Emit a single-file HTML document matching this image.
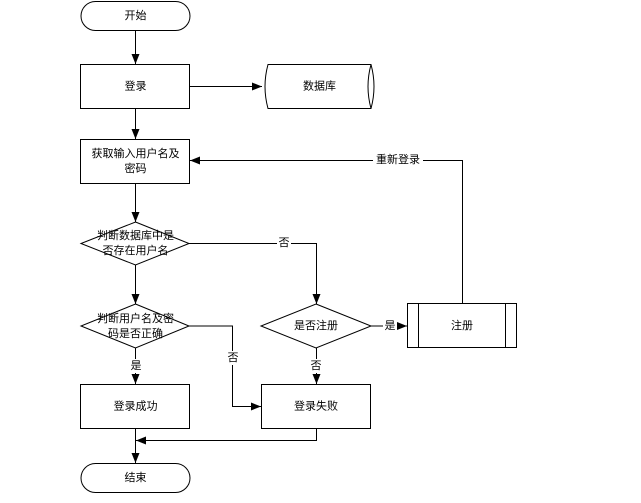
<!DOCTYPE html>
<html><head><meta charset="utf-8"><style>body{margin:0;background:#fff}svg text{font-family:"Liberation Sans","Noto Sans CJK SC",sans-serif;font-size:11px;fill:#000;text-anchor:middle;dominant-baseline:central}</style></head><body>
<svg width="641" height="498" viewBox="0 0 641 498" xmlns="http://www.w3.org/2000/svg">
<defs><marker id="a" markerWidth="10" markerHeight="8" refX="10" refY="4" orient="auto" markerUnits="userSpaceOnUse"><path d="M0,0L10,4L0,8z" fill="#000"/></marker></defs>
<g stroke="#000" fill="none" stroke-width="1">
<rect x="81" y="1.5" width="109" height="29" rx="14.5" fill="#fff"/>
<rect x="80.5" y="64.5" width="109" height="44" fill="#fff"/>
<path d="M268,64.5H371Q377,86.5 371,108.5H268Q262,86.5 268,64.5Z" fill="#fff"/>
<path d="M371,64.5Q365,86.5 371,108.5"/>
<rect x="80.5" y="139.5" width="109" height="44" fill="#fff"/>
<path d="M135.5,222L189,243.5L135.5,265L81,243.5Z" fill="#fff"/>
<path d="M135.5,304L189,326L135.5,348L81,326Z" fill="#fff"/>
<path d="M316,304L371,326L316,348L261,326Z" fill="#fff"/>
<rect x="80.5" y="384.5" width="109" height="44" fill="#fff"/>
<rect x="261.5" y="384.5" width="109" height="44" fill="#fff"/>
<rect x="407.5" y="303.5" width="109" height="44" fill="#fff"/>
<path d="M418.5,303.5V347.5M505.5,303.5V347.5"/>
<rect x="81" y="463.5" width="109" height="29" rx="14.5" fill="#fff"/>
<path d="M135.5,31V64" marker-end="url(#a)"/>
<path d="M190,86.5H262" marker-end="url(#a)"/>
<path d="M135.5,109V139" marker-end="url(#a)"/>
<path d="M135.5,184V222" marker-end="url(#a)"/>
<path d="M135.5,265V304" marker-end="url(#a)"/>
<path d="M135.5,348V384" marker-end="url(#a)"/>
<path d="M135.5,429V463" marker-end="url(#a)"/>
<path d="M189,243.5H316.5V304" marker-end="url(#a)"/>
<path d="M189,326H232.5V406.5H261" marker-end="url(#a)"/>
<path d="M371,326H407" marker-end="url(#a)"/>
<path d="M316.5,348V384" marker-end="url(#a)"/>
<path d="M316.5,429V440.5H136" marker-end="url(#a)"/>
<path d="M462.5,303V160.5H190" marker-end="url(#a)"/>
</g>
<g fill="#fff"><rect x="277" y="236" width="14" height="14"/><rect x="226" y="351" width="14" height="14"/><rect x="383" y="319" width="14" height="14"/><rect x="309" y="359" width="14" height="14"/><rect x="129" y="359" width="14" height="14"/><rect x="373" y="153" width="50" height="14"/></g>
<text x="135.5" y="16">开始</text><text x="135.5" y="86.5">登录</text><text x="319.5" y="86.5">数据库</text>
<text x="135.5" y="154">获取输入用户名及</text><text x="135.5" y="169">密码</text>
<text x="135.5" y="236">判断数据库中是</text><text x="135.5" y="251">否存在用户名</text>
<text x="135.5" y="319">判断用户名及密</text><text x="135.5" y="334">码是否正确</text>
<text x="316" y="326">是否注册</text><text x="462" y="326">注册</text>
<text x="135.5" y="406.5">登录成功</text><text x="316" y="406.5">登录失败</text><text x="135.5" y="478">结束</text>
<text x="284" y="243">否</text><text x="233" y="358">否</text><text x="390" y="326">是</text><text x="316" y="366">否</text><text x="136" y="366">是</text><text x="398" y="160">重新登录</text>
</svg></body></html>
